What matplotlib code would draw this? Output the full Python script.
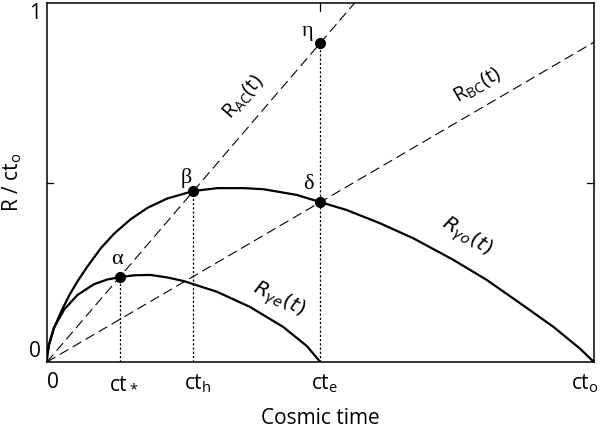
import matplotlib.pyplot as plt
from matplotlib import transforms

plt.rcParams['font.family'] = ['Open Sans', 'DejaVu Sans']
plt.rcParams['mathtext.default'] = 'regular'

# light-cone curves (t in units of t_o, R in units of c t_o)
t_gamma_o = [0, 0.001, 0.004, 0.013, 0.026, 0.041, 0.056, 0.074, 0.099, 0.123, 0.153,
             0.184, 0.220, 0.268, 0.312, 0.360, 0.396, 0.457, 0.5, 0.548, 0.609,
             0.670, 0.743, 0.804, 0.865, 0.926, 0.974, 1.0]
R_gamma_o = [0, 0.020, 0.047, 0.094, 0.140, 0.186, 0.225, 0.266, 0.318, 0.358, 0.398,
             0.430, 0.456, 0.477, 0.485, 0.485, 0.482, 0.466, 0.446, 0.424, 0.387,
             0.345, 0.285, 0.229, 0.164, 0.098, 0.038, 0.0]

t_gamma_e = [0, 0.001, 0.004, 0.013, 0.032, 0.056, 0.086, 0.110, 0.134, 0.160, 0.189,
             0.220, 0.250, 0.311, 0.371, 0.432, 0.475, 0.5]
R_gamma_e = [0, 0.021, 0.050, 0.096, 0.147, 0.187, 0.217, 0.230, 0.237, 0.242, 0.243,
             0.236, 0.226, 0.196, 0.154, 0.098, 0.045, 0.0]

# straight lines through the origin
slope_AC = 1.78
slope_BC = 0.892

# marked events
pt_names = ['α', 'β', 'δ', 'η']
pt_t = [0.134, 0.268, 0.5, 0.5]
pt_R = [0.237, 0.477, 0.446, 0.89]

# x tick labels
xtick_pos = [0, 0.134, 0.268, 0.5, 1.0]
xtick_lab = ['0', 'ct$_*$', 'ct$_{h}$', 'ct$_{e}$', 'ct$_{o}$']

fig = plt.figure(figsize=(6, 4.29), dpi=100)
ax = fig.add_axes([0.078, 0.156, 0.912, 0.836])

ax.plot(t_gamma_o, R_gamma_o, color='black', lw=1.6, solid_joinstyle='round')
ax.plot(t_gamma_e, R_gamma_e, color='black', lw=1.6, solid_joinstyle='round')

ax.plot([0, 1 / slope_AC], [0, 1], color='black', lw=0.8, dashes=(9, 4.5))
ax.plot([0, 1], [0, slope_BC], color='black', lw=0.8, dashes=(9, 4.5))

# dotted drop lines from alpha, beta, eta
for i in [0, 1, 3]:
    ax.plot([pt_t[i], pt_t[i]], [0, pt_R[i]], color='black', lw=0.9, dashes=(1.8, 1.6))

ax.plot(pt_t, pt_R, 'o', color='black', ms=7)

greek = dict(family=['Liberation Serif', 'DejaVu Serif'], fontsize=16, ha='center', va='center')
ax.text(0.129, 0.285, pt_names[0], **greek)
ax.text(0.2545, 0.512, pt_names[1], **greek)
ax.text(0.478, 0.496, pt_names[2], **greek)
ax.text(0.477, 0.921, pt_names[3], **greek)

ax.text(0.359, 0.740, 'R$_{AC}$(t)', fontsize=14.5, rotation=49, ha='center', va='center')
ax.text(0.786, 0.772, 'R$_{BC}$(t)', fontsize=14.5, rotation=30, ha='center', va='center')
ax.text(0.767, 0.350, r'$\mathit{R_{\gamma o}(t)}$', fontsize=14.5, rotation=-32,
        ha='center', va='center')
ax.text(0.423, 0.173, r'$\mathit{R_{\gamma e}(t)}$', fontsize=14.5, rotation=-26,
        ha='center', va='center')

ax.set_xlim(0, 1)
ax.set_ylim(0, 1)

# x tick labels drawn by hand so "ct" sits over the tick
ax.set_xticks([])
xtr = transforms.blended_transform_factory(ax.transData, ax.transAxes)
for pos, lab in zip(xtick_pos, xtick_lab):
    if pos >= 1.0:
        off = transforms.offset_copy(xtr, fig=fig, x=5, y=0, units='dots')
        ax.text(pos, -0.028, lab, transform=off, fontsize=15, ha='right', va='top')
    else:
        off = transforms.offset_copy(xtr, fig=fig, x=4 if pos > 0 else 6, y=0, units='dots')
        ax.text(pos, -0.028, lab, transform=off, fontsize=15, ha='center', va='top')

ax.set_yticks([0, 1])
ax.set_yticklabels(['0', '1'], fontsize=15)
ax.tick_params(axis='y', length=0, pad=4)
ylabs = ax.get_yticklabels()
ylabs[0].set_va('bottom')
ylabs[1].set_va('top')

# small inward ticks
ax.plot([0, 0.012], [0.5, 0.5], color='black', lw=0.9, transform=ax.transAxes, clip_on=False)
ax.plot([0.988, 1], [0.5, 0.5], color='black', lw=0.9, transform=ax.transAxes, clip_on=False)
ax.plot([0.5, 0.5], [0.98, 1], color='black', lw=0.9, clip_on=False)

for s in ax.spines.values():
    s.set_linewidth(1.1)

ax.set_xlabel('Cosmic time', fontsize=15, labelpad=33)
ax.set_ylabel('R / ct$_o$', fontsize=15, labelpad=4)

fig.savefig('out.png', dpi=100)
